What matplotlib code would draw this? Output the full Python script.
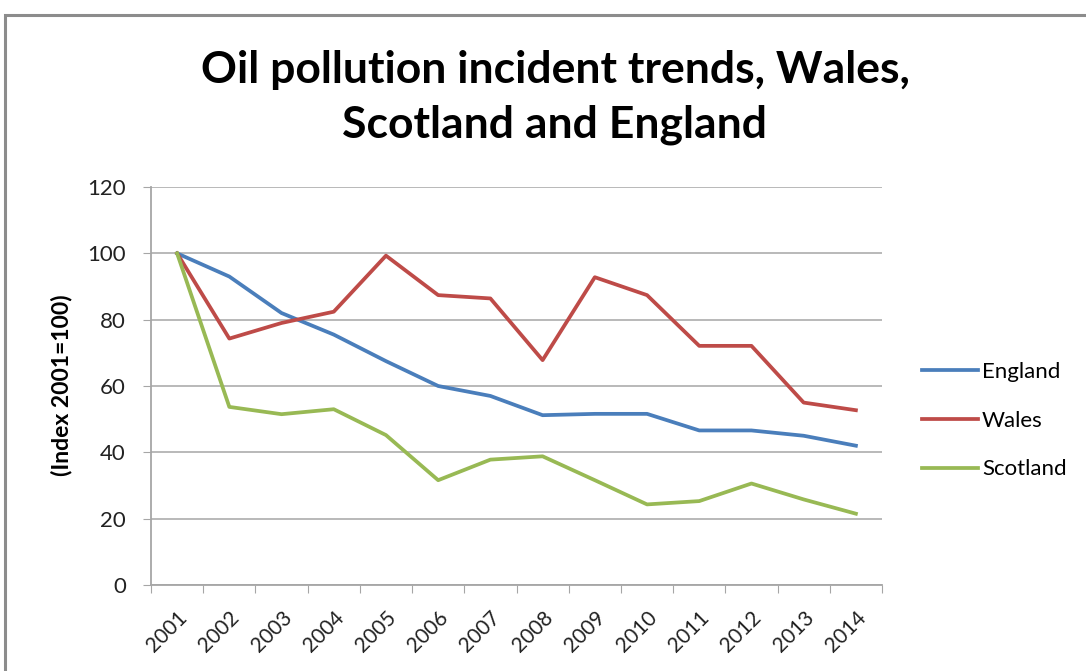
import matplotlib
matplotlib.use("Agg")
import matplotlib.pyplot as plt
from matplotlib.patches import Rectangle

years = [str(y) for y in range(2001, 2015)]
england = [100, 93, 82, 75.5, 67.5, 60, 57, 51.2, 51.6, 51.6, 46.6, 46.6, 45, 42]
wales = [100, 74.3, 79, 82.4, 99.3, 87.4, 86.4, 67.8, 92.8, 87.4, 72.1, 72.1, 55, 52.7]
scotland = [100, 53.7, 51.5, 53, 45.2, 31.6, 37.8, 38.8, 31.6, 24.3, 25.3, 30.6, 25.8, 21.5]
series_names = ["England", "Wales", "Scotland"]
colors = ["#4a7ebb", "#be4b48", "#98b954"]
yticks = [0, 20, 40, 60, 80, 100, 120]

W, H = 1086, 671
fig = plt.figure(figsize=(W / 100, H / 100), dpi=100)
fig.patch.set_facecolor("white")

# chart area border (top and left visible)
fig.add_artist(Rectangle((5 / W, -0.05), 1.2, (H - 15) / H + 0.05, transform=fig.transFigure,
                         fill=False, edgecolor="#8c8c8c", linewidth=2.2))

ax = fig.add_axes([151 / W, 1 - 585 / H, (882 - 151) / W, (585 - 187) / H])
x = list(range(len(years)))
for vals, name, c in zip([england, wales, scotland], series_names, colors):
    ax.plot(x, vals, color=c, linewidth=2.7, label=name, solid_joinstyle="round")

ax.set_xlim(-0.5, len(years) - 0.5)
ax.set_ylim(0, 120)
ax.set_yticks(yticks)
ax.set_yticklabels([str(v) for v in yticks], fontsize=16, family="Lato", color="#222222")
ax.yaxis.grid(True, color="#a6a6a6", linewidth=1.1)
ax.set_axisbelow(True)
ax.set_xticks([i - 0.5 for i in range(len(years) + 1)])
ax.set_xticklabels([])
ax.set_xticks(x, minor=True)
ax.set_xticklabels(years, minor=True, rotation=45, ha="right", va="top", fontsize=15,
                   family="Lato", rotation_mode="anchor", color="#222222")
ax.tick_params(axis="x", which="minor", length=0, pad=16)
ax.tick_params(axis="x", which="major", length=6, color="#a6a6a6", direction="out")
ax.tick_params(axis="y", length=6, color="#a6a6a6", direction="out", pad=12)
for s in ["top", "right"]:
    ax.spines[s].set_visible(False)
for s in ["left", "bottom"]:
    ax.spines[s].set_color("#a6a6a6")
    ax.spines[s].set_linewidth(1.3)

fig.text(62 / W, 1 - 385 / H, "(Index 2001=100)", rotation=90, ha="center", va="center",
         fontsize=16.5, fontweight="bold", family="Lato")

fig.text(555 / W, 1 - 70 / H, "Oil pollution incident trends, Wales,", ha="center", va="center",
         fontsize=32, fontweight="bold", family="Lato")
fig.text(555 / W, 1 - 125 / H, "Scotland and England", ha="center", va="center",
         fontsize=32, fontweight="bold", family="Lato")

leg = fig.legend(loc="upper left", bbox_to_anchor=(902 / W, 1 - 342 / H), frameon=False,
                 prop={"family": "Lato", "size": 16}, handlelength=2.5, labelspacing=1.29,
                 handletextpad=0.2)

fig.savefig("out.png", dpi=100)
